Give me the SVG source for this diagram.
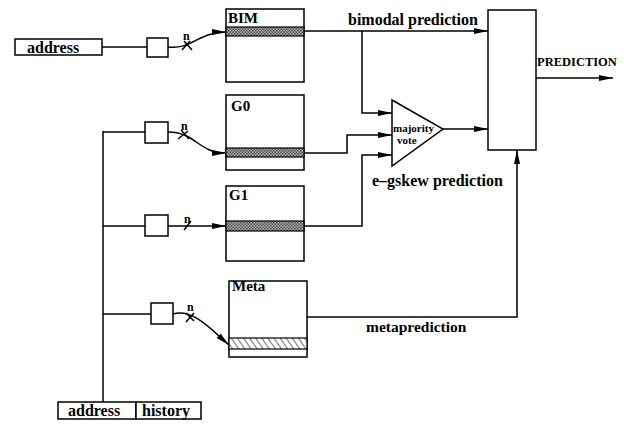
<svg xmlns="http://www.w3.org/2000/svg" width="624" height="424" viewBox="0 0 624 424">
<style>
.b{fill:#fff;stroke:#000;stroke-width:1.5}
.c{fill:none;stroke:#000;stroke-width:1.5}
.t{font-family:"Liberation Serif","Times New Roman",serif;font-weight:bold;fill:#000}
.band{fill:url(#dots);stroke:#000;stroke-width:1.2}
.hband{fill:url(#hatch);stroke:#000;stroke-width:1.2}
</style>
<defs>
<marker id="ar" viewBox="0 0 14 6" refX="14" refY="3" markerWidth="14" markerHeight="6" markerUnits="userSpaceOnUse" orient="auto">
<path d="M0,0 L14,3 L0,6 z" fill="#000"/>
</marker>
<pattern id="dots" width="3" height="3" patternUnits="userSpaceOnUse">
<rect width="3" height="3" fill="#b8b8b8"/>
<rect width="1.5" height="1.5" fill="#444"/>
<rect x="1.5" y="1.5" width="1.5" height="1.5" fill="#444"/>
</pattern>
<pattern id="hatch" width="5" height="5" patternUnits="userSpaceOnUse" patternTransform="rotate(-35)">
<rect width="5" height="5" fill="#fff"/>
<line x1="0" y1="0" x2="0" y2="5" stroke="#333" stroke-width="1.4"/>
</pattern>
</defs>

<g id="connectors">
<path class="c" d="M102,47 H147"/>
<path class="c" d="M168,47 C192,50 198,32 226,32" marker-end="url(#ar)"/>
<path class="c" d="M103,131 V402"/>
<path class="c" d="M103,132 H145"/>
<path class="c" d="M103,226 H145"/>
<path class="c" d="M103,314 H151"/>
<path class="c" d="M168,132 C196,132 198,153 226,153" marker-end="url(#ar)"/>
<path class="c" d="M168,226 H226" marker-end="url(#ar)"/>
<path class="c" d="M173,314 C192,308 210,328 229,345" marker-end="url(#ar)"/>
<path class="c" d="M304,31 H488" marker-end="url(#ar)"/>
<path class="c" d="M362,31 V113 H392" marker-end="url(#ar)"/>
<path class="c" d="M304,153 H347 V135 H392" marker-end="url(#ar)"/>
<path class="c" d="M304,226 H362 V155 H392" marker-end="url(#ar)"/>
<path class="c" d="M443,129 H488" marker-end="url(#ar)"/>
<path class="c" d="M307,317 H517 V150" marker-end="url(#ar)"/>
<path class="c" d="M536,78 H613" marker-end="url(#ar)"/>
<path class="c" d="M182,50 L190,41 M184,41 L192,50" stroke-width="1.2"/>
<path class="c" d="M178,139 L188,131 M181,130 L189,139" stroke-width="1.2"/>
<path class="c" d="M184,230 L191,221"/>
<path class="c" d="M186,322 L194,313 M186,313 L194,321" stroke-width="1.2"/>
<text class="t" x="183" y="40" font-size="12">n</text>
<text class="t" x="181" y="130" font-size="12">n</text>
<text class="t" x="184" y="223" font-size="12">n</text>
<text class="t" x="187" y="311" font-size="12">n</text>
<text class="t" x="348" y="25" font-size="16">bimodal prediction</text>
<text class="t" x="537" y="66" font-size="12.5">PREDICTION</text>
<text class="t" x="372" y="186" font-size="16">e–gskew prediction</text>
<text class="t" x="366" y="332" font-size="15.5">metaprediction</text>
</g>

<g id="address1">
<rect class="b" x="15" y="39" width="87" height="16"/>
<text class="t" x="27" y="53" font-size="16">address</text>
</g>

<g id="reg-bim"><rect class="b" x="147" y="38" width="21" height="19"/></g>
<g id="reg-g0"><rect class="b" x="145" y="122" width="23" height="21"/></g>
<g id="reg-g1"><rect class="b" x="145" y="215" width="23" height="21"/></g>
<g id="reg-meta"><rect class="b" x="151" y="303" width="22" height="21"/></g>

<g id="BIM">
<rect class="b" x="226" y="9" width="78" height="73"/>
<rect class="band" x="226" y="27" width="78" height="9"/>
<text class="t" x="228" y="23" font-size="15">BIM</text>
</g>
<g id="G0">
<rect class="b" x="226" y="95" width="78" height="75"/>
<rect class="band" x="226" y="148" width="78" height="9"/>
<text class="t" x="231" y="111" font-size="15">G0</text>
</g>
<g id="G1">
<rect class="b" x="226" y="186" width="78" height="75"/>
<rect class="band" x="226" y="221" width="78" height="10"/>
<text class="t" x="229" y="200" font-size="15">G1</text>
</g>
<g id="Meta">
<rect class="b" x="229" y="281" width="78" height="76"/>
<rect class="hband" x="229" y="338" width="78" height="11"/>
<text class="t" x="232" y="291" font-size="15">Meta</text>
</g>

<g id="vote">
<path class="b" d="M392,100 L443,129 L392,166 z"/>
<text class="t" x="393" y="132" font-size="11">majority</text>
<text class="t" x="397" y="144" font-size="11">vote</text>
</g>

<g id="chooser">
<rect class="b" x="488" y="10" width="48" height="140"/>
</g>

<g id="addrhist">
<rect class="b" x="58" y="402" width="78" height="17"/>
<rect class="b" x="136" y="402" width="65" height="17"/>
<text class="t" x="68" y="416" font-size="16">address</text>
<text class="t" x="142" y="416" font-size="16">history</text>
</g>
</svg>
